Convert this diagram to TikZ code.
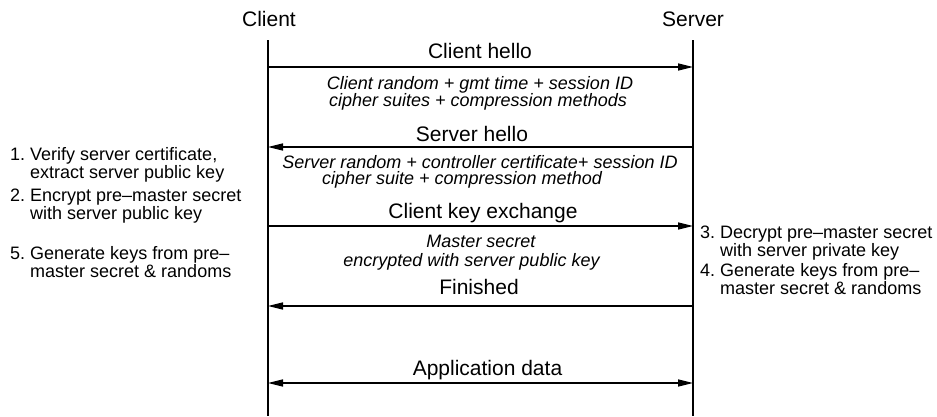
\documentclass[tikz,border=0pt]{standalone}
\usepackage{fontspec}
\setmainfont{Liberation Sans}
\usetikzlibrary{arrows.meta}

\tikzset{
  msg/.style={font=\fontsize{21}{24}\selectfont,anchor=base,inner sep=0pt},
  info/.style={font=\fontsize{18}{18}\selectfont\itshape,anchor=base,inner sep=0pt},
  note/.style={font=\fontsize{18}{18}\selectfont,anchor=base west,inner sep=0pt},
  life/.style={line width=1.4pt},
  sig/.style={line width=1.4pt,-{Triangle[length=15pt,width=7pt]}},
}
\newcommand{\notetab}[3]{\begin{tabular}[t]{@{}l@{\ }l@{}}#1 & #2\\ & #3\end{tabular}}

\begin{document}
\begin{tikzpicture}[x=1pt,y=-1pt]
    \useasboundingbox (0,0) rectangle (937,416);
    % lifelines
    \node[msg] (client) at (269,26) {Client};
    \node[msg] (server) at (693,26) {Server};
    \coordinate (c0) at (268,40);
    \coordinate (s0) at (693,40);
    \coordinate (cend) at (268,416);
    \coordinate (send) at (693,416);
    \draw[life] (c0)--(cend);
    \draw[life] (s0)--(send);
    \foreach \i/\y in {1/67,2/147,3/226,4/306,5/383}{
      \coordinate (c\i) at (268,\y);
      \coordinate (s\i) at (693,\y);
    }
    % messages
    \draw[sig] (c1)--(s1);
    \node[msg] (hello) at (480,58.5) {Client hello};
    \node[info] (hello1) at (480,89.5) {Client random + gmt time + session ID};
    \node[info] (hello2) at (478,106) {cipher suites + compression methods};
    \draw[sig] (s2)--(c2);
    \node[msg] (shello) at (472,141) {Server hello};
    \node[info] (shello1) at (480,168) {Server random + controller certificate+ session ID};
    \node[info] (shello2) at (462,184.5) {cipher suite + compression method};
    \draw[sig] (c3)--(s3);
    \node[msg] (kex) at (483,218.5) {Client key exchange};
    \node[info] (kex1) at (481,247.5) {Master secret};
    \node[info] (kex2) at (471.5,266) {encrypted with server public key};
    \draw[sig] (s4)--(c4);
    \node[msg] (fin) at (479,294.5) {Finished};
    \draw[sig,{Triangle[length=15pt,width=7pt]}-{Triangle[length=15pt,width=7pt]}] (c5)--(s5);
    \node[msg] (app) at (487.5,375) {Application data};
    % client side notes
    \node[note] (n1) at (10,160) {\notetab{1.}{Verify server certificate,}{extract server public key}};
    \node[note] (n2) at (10,201.5) {\notetab{2.}{Encrypt pre--master secret}{with server public key}};
    \node[note] (n5) at (10,259.5) {\notetab{5.}{Generate keys from pre--}{master secret \& randoms}};
    % server side notes
    \node[note] (n3) at (700,238) {\notetab{3.}{Decrypt pre--master secret}{with server private key}};
    \node[note] (n4) at (700,276.5) {\notetab{4.}{Generate keys from pre--}{master secret \& randoms}};
\end{tikzpicture}
\end{document}
